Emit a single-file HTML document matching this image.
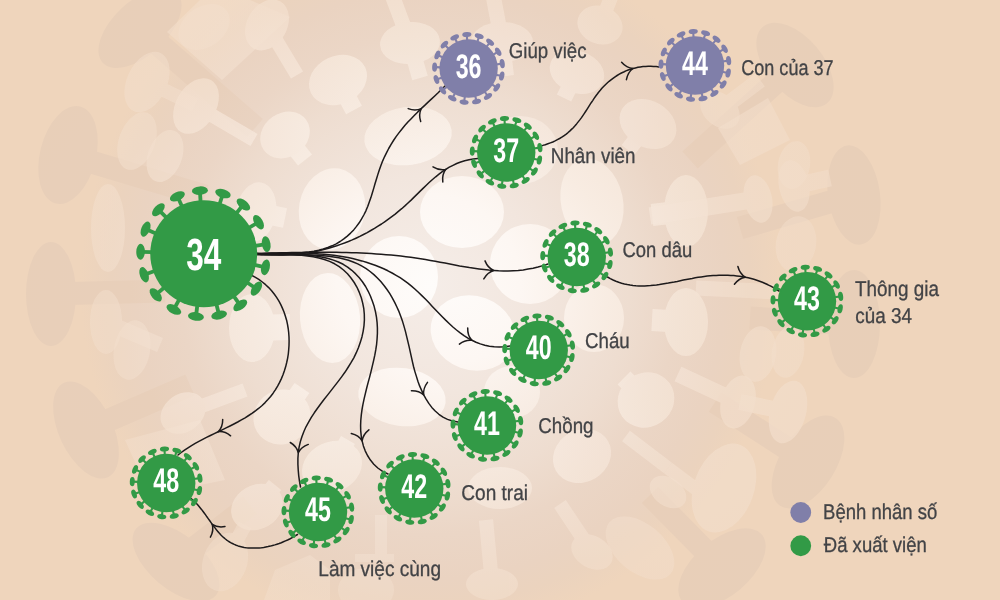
<!DOCTYPE html>
<html lang="vi">
<head>
<meta charset="utf-8">
<title>Sơ đồ lây nhiễm bệnh nhân số 34</title>
<style>
html,body{margin:0;padding:0;background:#efd5bc;}
body{width:1000px;height:600px;overflow:hidden;font-family:"Liberation Sans",sans-serif;}
svg{display:block;will-change:transform;}
text{-webkit-font-smoothing:antialiased;text-rendering:geometricPrecision;}
</style>
</head>
<body>
<svg width="1000" height="600" viewBox="0 0 1000 600">
<defs><radialGradient id="gb" gradientUnits="userSpaceOnUse" cx="430" cy="285" r="460"><stop offset="0.000" stop-color="#f5ede8"/><stop offset="0.239" stop-color="#f2e6de"/><stop offset="0.435" stop-color="#eeddd0"/><stop offset="0.543" stop-color="#ebd6c6"/><stop offset="0.641" stop-color="#ead3c1"/><stop offset="0.696" stop-color="#ebd3be"/><stop offset="0.761" stop-color="#efd5bc"/><stop offset="1.000" stop-color="#efd5bc"/></radialGradient><radialGradient id="gd" gradientUnits="userSpaceOnUse" cx="430" cy="285" r="460"><stop offset="0.000" stop-color="#eeddd0"/><stop offset="0.435" stop-color="#eeddd0"/><stop offset="0.511" stop-color="#e9d3c2"/><stop offset="0.652" stop-color="#e8cfba"/><stop offset="1.000" stop-color="#e8cfb8"/></radialGradient><radialGradient id="gl" gradientUnits="userSpaceOnUse" cx="430" cy="285" r="460"><stop offset="0.000" stop-color="#fefcfa"/><stop offset="0.196" stop-color="#fdf7f3"/><stop offset="0.391" stop-color="#f8ece2"/><stop offset="0.543" stop-color="#f5e5d8"/><stop offset="0.696" stop-color="#f3dfcd"/><stop offset="1.000" stop-color="#f2dcc8"/></radialGradient></defs>
<rect width="1000" height="600" fill="#efd5bc"/>
<circle cx="430" cy="285" r="355" fill="url(#gb)"/>
<g fill="url(#gd)">
<polygon points="132.1,37.1 247.1,137.1 262.9,118.9 147.9,18.9"/><ellipse cx="140" cy="28" rx="51" ry="27" transform="rotate(-43 140 28)"/>
<polygon points="64.7,166.0 201.7,207.0 208.3,185.0 71.3,144.0"/><ellipse cx="68" cy="155" rx="28" ry="50" transform="rotate(14 68 155)"/>
<polygon points="51.3,305.5 165.3,302.5 164.7,279.5 50.7,282.5"/><ellipse cx="51" cy="294" rx="25" ry="52" transform="rotate(0 51 294)"/>
<polygon points="90.6,440.6 194.6,395.6 185.4,374.4 81.4,419.4"/><ellipse cx="86" cy="430" rx="27" ry="52" transform="rotate(-25 86 430)"/>
<polygon points="183.0,571.1 257.0,514.1 243.0,495.9 169.0,552.9"/><ellipse cx="176" cy="562" rx="27" ry="52" transform="rotate(-50 176 562)"/>
<polygon points="787.3,56.5 682.3,151.5 697.7,168.5 802.7,73.5"/><ellipse cx="795" cy="65" rx="28" ry="50" transform="rotate(-40 795 65)"/>
<polygon points="850.8,184.0 736.8,217.0 743.2,239.0 857.2,206.0"/><ellipse cx="854" cy="195" rx="26" ry="50" transform="rotate(-8 854 195)"/>
<polygon points="854.7,312.5 750.7,306.5 749.3,329.5 853.3,335.5"/><ellipse cx="854" cy="324" rx="26" ry="54" transform="rotate(0 854 324)"/>
<polygon points="814.2,452.3 721.2,392.3 708.8,411.7 801.8,471.7"/><ellipse cx="808" cy="462" rx="28" ry="52" transform="rotate(32 808 462)"/>
<polygon points="730.2,559.9 658.2,486.9 641.8,503.1 713.8,576.1"/><ellipse cx="722" cy="568" rx="28" ry="52" transform="rotate(50 722 568)"/>
</g>
<g fill="url(#gl)" opacity="1.00"><ellipse cx="332" cy="209" rx="33" ry="41" transform="rotate(10 332 209)"/></g>
<g fill="url(#gl)" opacity="1.00"><ellipse cx="462" cy="212" rx="42" ry="36" transform="rotate(0 462 212)"/></g>
<g fill="url(#gl)" opacity="1.00"><ellipse cx="399" cy="277" rx="39" ry="41" transform="rotate(0 399 277)"/></g>
<g fill="url(#gl)" opacity="1.00"><ellipse cx="330" cy="318" rx="30" ry="45" transform="rotate(-5 330 318)"/></g>
<g fill="url(#gl)" opacity="1.00"><ellipse cx="530" cy="264" rx="40" ry="40" transform="rotate(0 530 264)"/></g>
<g fill="url(#gl)" opacity="1.00"><ellipse cx="473" cy="333" rx="43" ry="37" transform="rotate(20 473 333)"/></g>
<g fill="url(#gl)" opacity="1.00"><ellipse cx="592" cy="202" rx="31" ry="44" transform="rotate(-12 592 202)"/></g>
<g fill="url(#gl)" opacity="0.99"><ellipse cx="594" cy="318" rx="30" ry="34" transform="rotate(0 594 318)"/></g>
<g fill="url(#gl)" opacity="1.00"><ellipse cx="402" cy="397" rx="44" ry="29" transform="rotate(8 402 397)"/></g>
<g fill="url(#gl)" opacity="0.99"><ellipse cx="408" cy="136" rx="44" ry="29" transform="rotate(-8 408 136)"/></g>
<g fill="url(#gl)" opacity="0.83"><ellipse cx="512" cy="392" rx="28" ry="26" transform="rotate(0 512 392)"/></g>
<g fill="url(#gl)" opacity="0.73"><ellipse cx="520" cy="150" rx="38" ry="34" transform="rotate(0 520 150)"/></g>
<g fill="url(#gl)" opacity="0.94"><polygon points="330.1,84.2 346.1,114.2 361.9,105.8 345.9,75.8"/><ellipse cx="338" cy="80" rx="30" ry="24" transform="rotate(-25 338 80)"/></g>
<g fill="url(#gl)" opacity="0.94"><polygon points="278.0,140.6 298.0,165.6 312.0,154.4 292.0,129.4"/><ellipse cx="285" cy="135" rx="26" ry="22" transform="rotate(-35 285 135)"/></g>
<g fill="url(#gl)" opacity="0.88"><polygon points="402.3,45.2 412.3,80.2 427.7,75.8 417.7,40.8"/><ellipse cx="410" cy="43" rx="30" ry="21" transform="rotate(-5 410 43)"/><polygon points="417.0,40.4 399.0,-7.6 385.0,-2.4 403.0,45.6"/><ellipse cx="410" cy="43" rx="0.1" ry="0.1" transform="rotate(0 410 43)"/></g>
<g fill="url(#gl)" opacity="0.78"><polygon points="494.1,42.9 498.1,76.9 513.9,75.1 509.9,41.1"/><ellipse cx="502" cy="42" rx="31" ry="20" transform="rotate(0 502 42)"/><polygon points="509.4,40.6 500.4,-6.4 485.6,-3.6 494.6,43.4"/><ellipse cx="502" cy="42" rx="0.1" ry="0.1" transform="rotate(0 502 42)"/></g>
<g fill="url(#gl)" opacity="0.83"><polygon points="569.8,68.4 556.8,94.4 571.2,101.6 584.2,75.6"/><ellipse cx="577" cy="72" rx="28" ry="21" transform="rotate(20 577 72)"/></g>
<g fill="url(#gl)" opacity="0.78"><polygon points="641.7,119.1 621.7,145.1 634.3,154.9 654.3,128.9"/><ellipse cx="648" cy="124" rx="30" ry="23" transform="rotate(30 648 124)"/></g>
<g fill="url(#gl)" opacity="0.73"><polygon points="606.5,27.6 618.5,-2.4 605.5,-7.6 593.5,22.4"/><ellipse cx="600" cy="25" rx="23" ry="19" transform="rotate(20 600 25)"/></g>
<g fill="url(#gl)" opacity="0.88"><polygon points="684.7,200.1 650.7,204.1 653.3,225.9 687.3,221.9"/><ellipse cx="686" cy="211" rx="22" ry="36" transform="rotate(0 686 211)"/></g>
<g fill="url(#gl)" opacity="0.88"><polygon points="686.6,311.0 652.6,309.0 651.4,331.0 685.4,333.0"/><ellipse cx="686" cy="322" rx="22" ry="34" transform="rotate(0 686 322)"/></g>
<g fill="url(#gl)" opacity="0.88"><polygon points="652.4,393.6 630.4,371.6 617.6,384.4 639.6,406.4"/><ellipse cx="646" cy="400" rx="29" ry="27" transform="rotate(-35 646 400)"/></g>
<g fill="url(#gl)" opacity="0.83"><polygon points="588.2,451.0 572.2,431.0 559.8,441.0 575.8,461.0"/><ellipse cx="582" cy="456" rx="30" ry="26" transform="rotate(-30 582 456)"/></g>
<g fill="url(#gl)" opacity="0.78"><ellipse cx="500" cy="488" rx="32" ry="21" transform="rotate(0 500 488)"/></g>
<g fill="url(#gl)" opacity="0.88"><polygon points="252.3,341.0 290.3,340.0 289.7,314.0 251.7,315.0"/><ellipse cx="252" cy="328" rx="23" ry="34" transform="rotate(0 252 328)"/></g>
<g fill="url(#gl)" opacity="0.78"><polygon points="254.0,221.8 283.0,227.8 287.0,208.2 258.0,202.2"/><ellipse cx="256" cy="212" rx="20" ry="30" transform="rotate(10 256 212)"/></g>
<g fill="url(#gl)" opacity="0.94"><polygon points="289.4,422.1 309.4,393.1 294.6,382.9 274.6,411.9"/><ellipse cx="282" cy="417" rx="29" ry="27" transform="rotate(-30 282 417)"/></g>
<g fill="url(#gl)" opacity="0.88"><polygon points="338.9,471.1 354.9,444.1 341.1,435.9 325.1,462.9"/><ellipse cx="332" cy="467" rx="31" ry="25" transform="rotate(-25 332 467)"/></g>
<g fill="url(#gl)" opacity="0.78"><polygon points="263.2,512.1 281.2,490.1 268.8,479.9 250.8,501.9"/><ellipse cx="257" cy="507" rx="27" ry="22" transform="rotate(-30 257 507)"/></g>
<g fill="url(#gl)" opacity="0.73"><polygon points="185.4,419.6 247.4,396.6 242.6,383.4 180.6,406.4"/><ellipse cx="183" cy="413" rx="24" ry="19" transform="rotate(-35 183 413)"/></g>
<g fill="url(#gl)" opacity="0.52"><polygon points="231.2,565.3 251.2,528.3 238.8,521.7 218.8,558.7"/><ellipse cx="225" cy="562" rx="22" ry="30" transform="rotate(20 225 562)"/></g>
<g fill="url(#gl)" opacity="0.57"><ellipse cx="794" cy="165" rx="16" ry="24" transform="rotate(10 794 165)"/></g>
<g fill="url(#gl)" opacity="0.57"><polygon points="144.0,88.3 192.0,111.3 198.0,98.7 150.0,75.7"/><ellipse cx="147" cy="82" rx="20" ry="32" transform="rotate(25 147 82)"/></g>
<g fill="url(#gl)" opacity="0.83"><polygon points="192.5,112.0 250.5,146.0 257.5,134.0 199.5,100.0"/><ellipse cx="196" cy="106" rx="20" ry="30" transform="rotate(30 196 106)"/></g>
<g fill="url(#gl)" opacity="0.57"><ellipse cx="137" cy="141" rx="18" ry="30" transform="rotate(20 137 141)"/></g>
<g fill="url(#gl)" opacity="0.62"><ellipse cx="165" cy="156" rx="17" ry="27" transform="rotate(20 165 156)"/></g>
<g fill="url(#gl)" opacity="0.57"><ellipse cx="204" cy="27" rx="28" ry="20" transform="rotate(-35 204 27)"/></g>
<g fill="url(#gl)" opacity="0.83"><polygon points="261.0,28.6 291.0,78.6 303.0,71.4 273.0,21.4"/><ellipse cx="267" cy="25" rx="20" ry="27" transform="rotate(30 267 25)"/></g>
<g fill="url(#gl)" opacity="0.57"><ellipse cx="108" cy="228" rx="17" ry="44" transform="rotate(0 108 228)"/></g>
<g fill="url(#gl)" opacity="0.52"><polygon points="103.1,328.9 157.1,351.9 162.9,338.1 108.9,315.1"/><ellipse cx="106" cy="322" rx="16" ry="32" transform="rotate(0 106 322)"/></g>
<g fill="url(#gl)" opacity="0.52"><ellipse cx="132" cy="350" rx="18" ry="30" transform="rotate(10 132 350)"/></g>
<g fill="url(#gl)" opacity="0.68"><polygon points="756.7,190.6 648.7,207.6 651.3,224.4 759.3,207.4"/><ellipse cx="758" cy="199" rx="14" ry="24" transform="rotate(-12 758 199)"/></g>
<g fill="url(#gl)" opacity="0.62"><polygon points="795.8,194.3 831.8,186.3 828.2,169.7 792.2,177.7"/><ellipse cx="794" cy="186" rx="15" ry="26" transform="rotate(-12 794 186)"/></g>
<g fill="url(#gl)" opacity="0.52"><ellipse cx="796" cy="244" rx="20" ry="28" transform="rotate(10 796 244)"/></g>
<g fill="url(#gl)" opacity="0.62"><ellipse cx="758" cy="354" rx="18" ry="28" transform="rotate(10 758 354)"/><polygon points="695.6,295.5 777.6,299.5 778.4,284.5 696.4,280.5"/><ellipse cx="696" cy="288" rx="0.1" ry="0.1" transform="rotate(0 696 288)"/></g>
<g fill="url(#gl)" opacity="0.57"><ellipse cx="788" cy="352" rx="16" ry="26" transform="rotate(10 788 352)"/></g>
<g fill="url(#gl)" opacity="0.73"><polygon points="741.4,394.8 681.4,366.8 674.6,381.2 734.6,409.2"/><ellipse cx="738" cy="402" rx="17" ry="27" transform="rotate(15 738 402)"/></g>
<g fill="url(#gl)" opacity="0.73"><polygon points="789.6,404.2 741.6,394.2 738.4,409.8 786.4,419.8"/><ellipse cx="788" cy="412" rx="18" ry="32" transform="rotate(15 788 412)"/></g>
<g fill="url(#gl)" opacity="0.68"><ellipse cx="724" cy="488" rx="30" ry="46" transform="rotate(20 724 488)"/><polygon points="671.9,462.8 629.9,430.8 622.1,441.2 664.1,473.2"/><ellipse cx="668" cy="468" rx="0.1" ry="0.1" transform="rotate(0 668 468)"/><polygon points="664.1,473.2 704.1,503.2 711.9,492.8 671.9,462.8"/><ellipse cx="668" cy="468" rx="0.1" ry="0.1" transform="rotate(0 668 468)"/></g>
<g fill="url(#gl)" opacity="0.62"><ellipse cx="668" cy="492" rx="20" ry="14" transform="rotate(35 668 492)"/></g>
<g fill="url(#gl)" opacity="0.52"><ellipse cx="640" cy="548" rx="40" ry="24" transform="rotate(40 640 548)"/></g>
<g fill="url(#gl)" opacity="0.57"><polygon points="724.8,116.4 764.8,86.4 755.2,73.6 715.2,103.6"/><ellipse cx="720" cy="110" rx="22" ry="16" transform="rotate(40 720 110)"/></g>
<g fill="url(#gl)" opacity="0.62"><polygon points="597.8,548.1 565.8,500.1 554.2,507.9 586.2,555.9"/><ellipse cx="592" cy="552" rx="22" ry="16" transform="rotate(30 592 552)"/></g>
<g fill="url(#gl)" opacity="0.62"><polygon points="499.0,583.3 493.0,519.3 479.0,520.7 485.0,584.7"/><ellipse cx="492" cy="584" rx="26" ry="16" transform="rotate(0 492 584)"/></g>
<g fill="url(#gl)" opacity="0.47"><ellipse cx="366" cy="590" rx="28" ry="22" transform="rotate(0 366 590)"/><polygon points="387.0,556.0 387.0,515.0 375.0,515.0 375.0,556.0"/><ellipse cx="381" cy="556" rx="0.1" ry="0.1" transform="rotate(0 381 556)"/><polygon points="355.0,562.0 394.0,562.0 394.0,554.0 355.0,554.0"/><ellipse cx="355" cy="558" rx="0.1" ry="0.1" transform="rotate(0 355 558)"/></g>
<polygon fill="url(#gl)" opacity="0.57" points="167,32 222,80 290,17 250,0 200,0"/>
<polygon fill="url(#gl)" opacity="0.52" points="125,440 200,420 225,480 150,495"/>
<polygon fill="url(#gl)" opacity="0.47" points="264,600 275,570 310,555 330,570 330,600"/>
<polygon fill="url(#gl)" opacity="0.57" points="718,128 768,98 790,140 740,165"/>
<g fill="none" stroke="#1d1a1b" stroke-width="1.5" stroke-linecap="round" stroke-linejoin="round">
<path d="M257.0 253.5 L261.1 253.5 L265.4 253.5 L269.9 253.5 L274.6 253.6 L279.4 253.6 L284.2 253.6 L289.2 253.5 L294.2 253.3 L299.2 253.0 L304.1 252.5 L309.1 251.9 L313.9 251.2 L318.7 250.2 L323.3 249.0 L327.8 247.5 L332.1 245.8 L336.2 243.8 L340.1 241.5 L343.8 238.9 L347.3 236.1 L350.6 233.1 L353.7 229.9 L356.5 226.4 L359.2 222.8 L361.6 218.9 L363.8 215.0 L365.9 210.8 L367.7 206.5 L369.3 202.1 L370.9 197.6 L372.3 193.0 L373.7 188.4 L375.0 183.8 L376.4 179.2 L377.8 174.6 L379.3 170.0 L380.9 165.5 L382.6 161.1 L384.5 156.8 L386.6 152.6 L388.7 148.5 L391.1 144.4 L393.5 140.5 L396.1 136.6 L398.9 132.9 L401.8 129.2 L404.8 125.6 L407.9 122.1 L411.2 118.7 L414.5 115.3 L417.8 111.9 L421.2 108.6 L424.7 105.4 L428.1 102.1 L431.6 98.9 L435.0 95.7 L438.4 92.5 L441.7 89.2 L445.0 86.0"/>
<path d="M420.7 121.6 Q418.4 114.5 421.2 108.6 M408.2 108.6 Q415.3 111.3 421.2 108.6"/>
<path d="M257.0 253.5 L261.4 254.0 L265.7 254.4 L270.0 254.6 L274.4 254.8 L278.7 254.9 L282.9 254.9 L287.2 254.7 L291.5 254.5 L295.7 254.2 L299.9 253.8 L304.1 253.3 L308.2 252.7 L312.4 252.0 L316.5 251.2 L320.6 250.3 L324.7 249.3 L328.7 248.2 L332.7 247.0 L336.7 245.8 L340.6 244.4 L344.5 243.0 L348.4 241.5 L352.2 239.9 L356.0 238.2 L359.8 236.4 L363.5 234.5 L367.2 232.6 L370.8 230.5 L374.5 228.4 L378.0 226.2 L381.5 224.0 L385.0 221.6 L388.4 219.2 L391.8 216.7 L395.2 214.1 L398.4 211.4 L401.7 208.7 L404.9 205.9 L408.0 203.0 L411.1 200.1 L414.1 197.1 L417.2 194.1 L420.2 191.1 L423.3 188.1 L426.3 185.2 L429.4 182.3 L432.5 179.5 L435.7 176.8 L439.0 174.2 L442.3 171.7 L445.8 169.4 L449.3 167.2 L453.0 165.3 L456.7 163.5 L460.7 162.0 L464.7 160.7 L469.0 159.7 L473.4 158.9 L478.0 158.5"/>
<path d="M442.8 182.0 Q441.8 174.5 445.8 169.4 M433.0 166.8 Q439.4 170.8 445.8 169.4"/>
<path d="M257.0 253.5 L262.0 253.4 L266.9 253.2 L271.9 253.1 L276.9 252.9 L281.8 252.8 L286.8 252.7 L291.8 252.6 L296.8 252.5 L301.7 252.4 L306.7 252.3 L311.7 252.3 L316.7 252.2 L321.6 252.2 L326.6 252.2 L331.6 252.3 L336.6 252.3 L341.5 252.4 L346.5 252.5 L351.5 252.7 L356.4 252.8 L361.4 253.0 L366.4 253.3 L371.3 253.6 L376.3 253.9 L381.2 254.3 L386.1 254.7 L391.1 255.1 L396.0 255.6 L400.9 256.1 L405.9 256.7 L410.8 257.3 L415.7 258.0 L420.6 258.8 L425.5 259.5 L430.4 260.4 L435.3 261.3 L440.1 262.2 L445.0 263.1 L449.9 264.0 L454.8 265.0 L459.6 265.9 L464.5 266.7 L469.4 267.6 L474.2 268.3 L479.1 269.0 L484.0 269.6 L488.8 270.1 L493.7 270.5 L498.6 270.8 L503.5 270.9 L508.4 270.9 L513.3 270.7 L518.2 270.4 L523.2 269.9 L528.1 269.1 L533.1 268.2 L538.0 267.0 L543.0 265.6 L548.0 264.0"/>
<path d="M483.8 278.9 Q487.5 272.3 493.7 270.5 M485.0 260.9 Q487.8 267.9 493.7 270.5"/>
<path d="M257.0 254.0 L261.7 253.8 L266.4 253.5 L271.2 253.3 L275.9 253.2 L280.7 253.0 L285.6 253.0 L290.4 252.9 L295.2 252.9 L300.1 253.0 L304.9 253.1 L309.8 253.3 L314.6 253.5 L319.4 253.9 L324.2 254.3 L329.0 254.8 L333.8 255.3 L338.5 256.0 L343.3 256.8 L347.9 257.6 L352.6 258.6 L357.2 259.7 L361.8 260.9 L366.3 262.2 L370.7 263.7 L375.1 265.2 L379.5 267.0 L383.7 268.8 L387.9 270.8 L392.1 273.0 L396.1 275.3 L400.1 277.7 L404.0 280.3 L407.8 283.1 L411.5 286.1 L415.1 289.2 L418.6 292.5 L422.1 295.9 L425.6 299.3 L429.0 302.8 L432.3 306.4 L435.7 310.0 L439.1 313.5 L442.5 317.0 L445.9 320.4 L449.4 323.7 L452.9 327.0 L456.5 330.0 L460.2 332.9 L464.0 335.6 L467.9 338.1 L471.9 340.3 L476.0 342.2 L480.3 343.9 L484.8 345.2 L489.4 346.2 L494.2 346.8 L499.3 346.9 L504.5 346.7 L510.0 346.0"/>
<path d="M459.4 344.1 Q465.4 339.5 471.9 340.3 M467.7 328.0 Q467.4 335.6 471.9 340.3"/>
<path d="M257.0 254.0 L261.5 254.4 L266.2 254.6 L271.1 254.7 L276.0 254.8 L281.1 254.8 L286.3 254.8 L291.5 254.8 L296.8 254.7 L302.1 254.8 L307.4 254.8 L312.7 255.0 L318.1 255.3 L323.3 255.7 L328.6 256.2 L333.7 256.9 L338.8 257.8 L343.7 259.0 L348.5 260.3 L353.2 262.0 L357.7 263.9 L362.0 266.1 L366.2 268.7 L370.1 271.5 L373.9 274.6 L377.4 278.0 L380.8 281.6 L384.0 285.5 L387.0 289.5 L389.8 293.7 L392.4 298.1 L394.8 302.6 L397.0 307.2 L399.1 311.9 L400.9 316.8 L402.6 321.6 L404.1 326.6 L405.5 331.6 L406.7 336.6 L407.9 341.6 L409.1 346.7 L410.2 351.7 L411.3 356.7 L412.4 361.7 L413.6 366.7 L414.9 371.6 L416.4 376.4 L417.9 381.2 L419.6 385.9 L421.6 390.4 L423.7 394.9 L426.1 399.2 L428.8 403.4 L431.8 407.4 L435.2 411.0 L438.9 414.3 L443.0 417.1 L447.5 419.4 L452.5 421.0 L458.0 422.0"/>
<path d="M411.4 390.7 Q419.0 390.5 423.7 394.9 M427.5 382.4 Q422.9 388.5 423.7 394.9"/>
<path d="M257.0 254.5 L261.8 254.7 L266.8 254.7 L272.1 254.7 L277.5 254.6 L283.0 254.6 L288.7 254.6 L294.4 254.6 L300.1 254.8 L305.9 255.1 L311.6 255.6 L317.2 256.3 L322.8 257.3 L328.2 258.5 L333.4 260.1 L338.4 262.0 L343.2 264.3 L347.6 267.1 L351.8 270.3 L355.7 273.9 L359.3 277.8 L362.6 282.0 L365.6 286.5 L368.2 291.3 L370.5 296.2 L372.5 301.4 L374.2 306.6 L375.5 311.9 L376.5 317.3 L377.1 322.6 L377.4 328.0 L377.4 333.4 L377.1 338.8 L376.6 344.3 L375.8 349.7 L374.8 355.2 L373.6 360.7 L372.3 366.1 L371.0 371.6 L369.6 377.1 L368.1 382.6 L366.7 388.0 L365.4 393.4 L364.1 398.9 L363.0 404.2 L362.0 409.6 L361.3 414.9 L360.8 420.2 L360.6 425.5 L360.7 430.6 L361.2 435.8 L362.1 440.9 L363.4 445.9 L365.2 450.8 L367.5 455.5 L370.4 460.1 L373.8 464.2 L377.8 468.0 L382.6 471.3 L388.0 474.0"/>
<path d="M351.3 433.6 Q358.7 435.3 362.1 440.9 M368.9 429.8 Q363.0 434.4 362.1 440.9"/>
<path d="M257.0 254.5 L261.9 254.6 L267.1 254.6 L272.5 254.6 L278.1 254.5 L283.9 254.5 L289.7 254.6 L295.7 254.9 L301.6 255.3 L307.4 255.9 L313.2 256.8 L318.9 258.0 L324.3 259.5 L329.6 261.4 L334.6 263.8 L339.2 266.7 L343.5 270.0 L347.5 273.8 L351.0 278.0 L354.2 282.5 L357.0 287.3 L359.3 292.4 L361.3 297.7 L362.7 303.1 L363.8 308.7 L364.3 314.3 L364.4 319.9 L364.0 325.6 L363.2 331.1 L362.0 336.7 L360.4 342.1 L358.5 347.5 L356.3 352.7 L353.8 357.8 L351.0 362.7 L348.0 367.5 L344.9 372.3 L341.6 376.9 L338.2 381.4 L334.7 385.9 L331.2 390.4 L327.7 394.9 L324.2 399.3 L320.8 403.8 L317.5 408.2 L314.3 412.8 L311.3 417.4 L308.6 422.1 L306.0 426.8 L303.8 431.7 L301.9 436.7 L300.3 441.9 L299.1 447.2 L298.3 452.7 L297.9 458.4 L297.9 464.1 L298.2 469.8 L298.7 475.6 L299.5 481.3 L300.5 487.0"/>
<path d="M290.3 442.5 Q296.8 446.4 298.3 452.7 M308.3 444.4 Q301.2 446.9 298.3 452.7"/>
<path d="M251.0 275.0 L255.0 277.1 L258.8 279.4 L262.3 282.0 L265.6 284.7 L268.7 287.6 L271.6 290.7 L274.2 294.0 L276.6 297.4 L278.8 300.9 L280.8 304.6 L282.5 308.4 L284.1 312.2 L285.4 316.2 L286.6 320.2 L287.5 324.4 L288.2 328.5 L288.7 332.7 L289.0 337.0 L289.1 341.3 L289.0 345.5 L288.7 349.8 L288.3 354.0 L287.6 358.3 L286.7 362.5 L285.7 366.6 L284.4 370.7 L283.0 374.7 L281.4 378.6 L279.6 382.4 L277.6 386.1 L275.5 389.7 L273.1 393.2 L270.6 396.5 L267.9 399.6 L265.1 402.6 L262.1 405.5 L258.9 408.2 L255.7 410.7 L252.3 413.2 L248.7 415.5 L245.1 417.8 L241.4 419.9 L237.7 422.0 L233.9 424.0 L230.0 426.0 L226.1 427.9 L222.2 429.8 L218.2 431.7 L214.3 433.6 L210.4 435.5 L206.5 437.4 L202.7 439.4 L198.9 441.4 L195.2 443.4 L191.5 445.6 L188.0 447.8 L184.5 450.1 L181.2 452.5 L178.0 455.0"/>
<path d="M222.7 419.5 Q222.8 427.1 218.2 431.7 M230.6 435.8 Q224.7 431.0 218.2 431.7"/>
<path d="M297.5 534.5 L295.6 535.7 L293.7 536.8 L291.7 537.9 L289.7 539.0 L287.6 540.0 L285.5 540.9 L283.4 541.8 L281.3 542.7 L279.1 543.5 L277.0 544.2 L274.8 544.9 L272.6 545.5 L270.4 546.1 L268.1 546.6 L265.9 547.0 L263.7 547.4 L261.5 547.7 L259.3 547.9 L257.1 548.1 L254.9 548.1 L252.7 548.1 L250.5 548.1 L248.4 547.9 L246.3 547.7 L244.2 547.4 L242.1 546.9 L240.1 546.4 L238.1 545.9 L236.2 545.2 L234.3 544.4 L232.4 543.5 L230.6 542.6 L228.8 541.5 L227.1 540.3 L225.4 539.0 L223.8 537.7 L222.2 536.2 L220.7 534.7 L219.2 533.1 L217.8 531.4 L216.4 529.7 L215.0 527.9 L213.6 526.1 L212.2 524.3 L210.9 522.4 L209.6 520.5 L208.2 518.6 L206.9 516.8 L205.6 514.9 L204.2 513.0 L202.9 511.2 L201.5 509.4 L200.1 507.7 L198.7 506.0 L197.2 504.3 L195.7 502.7 L194.2 501.2 L192.6 499.8 L191.0 498.5"/>
<path d="M225.0 526.5 Q217.6 527.9 212.2 524.3 M210.4 537.1 Q214.1 530.5 212.2 524.3"/>
<path d="M540.0 146.0 L542.7 145.4 L545.3 144.7 L547.9 143.8 L550.4 142.9 L552.8 142.0 L555.1 140.9 L557.4 139.7 L559.6 138.5 L561.8 137.2 L563.8 135.8 L565.9 134.3 L567.8 132.8 L569.7 131.1 L571.5 129.4 L573.3 127.7 L575.0 125.8 L576.6 123.9 L578.2 121.9 L579.8 119.9 L581.3 117.9 L582.7 115.8 L584.2 113.6 L585.6 111.5 L587.0 109.3 L588.4 107.1 L589.8 104.9 L591.2 102.7 L592.7 100.6 L594.1 98.4 L595.6 96.3 L597.1 94.3 L598.6 92.2 L600.3 90.3 L601.9 88.3 L603.6 86.5 L605.4 84.7 L607.2 83.0 L609.1 81.3 L611.0 79.8 L613.0 78.3 L615.1 76.8 L617.1 75.5 L619.3 74.2 L621.4 73.0 L623.7 72.0 L625.9 70.9 L628.2 70.0 L630.6 69.2 L633.0 68.5 L635.4 67.9 L637.9 67.3 L640.4 66.9 L643.0 66.6 L645.6 66.4 L648.2 66.3 L650.8 66.3 L653.5 66.4 L656.2 66.6 L659.0 67.0"/>
<path d="M626.4 79.7 Q627.7 72.3 633.0 68.5 M621.6 62.3 Q626.5 68.0 633.0 68.5"/>
<path d="M607.5 277.0 L610.3 278.6 L613.1 280.0 L615.9 281.2 L618.7 282.3 L621.6 283.2 L624.4 284.0 L627.3 284.6 L630.1 285.1 L633.0 285.5 L635.9 285.8 L638.8 285.9 L641.8 286.0 L644.7 286.0 L647.6 285.8 L650.6 285.6 L653.5 285.3 L656.5 285.0 L659.4 284.6 L662.4 284.1 L665.4 283.6 L668.3 283.1 L671.3 282.5 L674.3 282.0 L677.3 281.4 L680.3 280.7 L683.3 280.1 L686.3 279.5 L689.3 278.9 L692.2 278.4 L695.2 277.8 L698.2 277.3 L701.2 276.9 L704.2 276.5 L707.2 276.1 L710.1 275.8 L713.1 275.5 L716.1 275.4 L719.0 275.2 L722.0 275.2 L724.9 275.2 L727.9 275.2 L730.8 275.4 L733.7 275.6 L736.7 275.9 L739.6 276.2 L742.5 276.7 L745.3 277.2 L748.2 277.8 L751.1 278.5 L753.9 279.3 L756.8 280.2 L759.6 281.2 L762.4 282.3 L765.2 283.5 L768.0 284.8 L770.8 286.2 L773.5 287.7 L776.3 289.3 L779.0 291.0"/>
<path d="M734.4 284.2 Q738.9 278.2 745.3 277.2 M737.9 266.5 Q739.8 273.9 745.3 277.2"/>
</g>
<g fill="#329a46" stroke="none">
<circle cx="203.75" cy="253.75" r="53.5"/>
<g transform="translate(203.75 253.75) rotate(-3.50)"><rect x="-1.9" y="-63.20" width="3.8" height="11.20"/><ellipse cx="0" cy="-63.20" rx="8" ry="4.3"/></g>
<g transform="translate(203.75 253.75) rotate(17.68)"><rect x="-1.9" y="-63.20" width="3.8" height="11.20"/><ellipse cx="0" cy="-63.20" rx="8" ry="4.3"/></g>
<g transform="translate(203.75 253.75) rotate(38.85)"><rect x="-1.9" y="-63.20" width="3.8" height="11.20"/><ellipse cx="0" cy="-63.20" rx="8" ry="4.3"/></g>
<g transform="translate(203.75 253.75) rotate(60.03)"><rect x="-1.9" y="-63.20" width="3.8" height="11.20"/><ellipse cx="0" cy="-63.20" rx="8" ry="4.3"/></g>
<g transform="translate(203.75 253.75) rotate(81.21)"><rect x="-1.9" y="-63.20" width="3.8" height="11.20"/><ellipse cx="0" cy="-63.20" rx="8" ry="4.3"/></g>
<g transform="translate(203.75 253.75) rotate(102.38)"><rect x="-1.9" y="-63.20" width="3.8" height="11.20"/><ellipse cx="0" cy="-63.20" rx="8" ry="4.3"/></g>
<g transform="translate(203.75 253.75) rotate(123.56)"><rect x="-1.9" y="-63.20" width="3.8" height="11.20"/><ellipse cx="0" cy="-63.20" rx="8" ry="4.3"/></g>
<g transform="translate(203.75 253.75) rotate(144.74)"><rect x="-1.9" y="-63.20" width="3.8" height="11.20"/><ellipse cx="0" cy="-63.20" rx="8" ry="4.3"/></g>
<g transform="translate(203.75 253.75) rotate(165.91)"><rect x="-1.9" y="-63.20" width="3.8" height="11.20"/><ellipse cx="0" cy="-63.20" rx="8" ry="4.3"/></g>
<g transform="translate(203.75 253.75) rotate(187.09)"><rect x="-1.9" y="-63.20" width="3.8" height="11.20"/><ellipse cx="0" cy="-63.20" rx="8" ry="4.3"/></g>
<g transform="translate(203.75 253.75) rotate(208.26)"><rect x="-1.9" y="-63.20" width="3.8" height="11.20"/><ellipse cx="0" cy="-63.20" rx="8" ry="4.3"/></g>
<g transform="translate(203.75 253.75) rotate(229.44)"><rect x="-1.9" y="-63.20" width="3.8" height="11.20"/><ellipse cx="0" cy="-63.20" rx="8" ry="4.3"/></g>
<g transform="translate(203.75 253.75) rotate(250.62)"><rect x="-1.9" y="-63.20" width="3.8" height="11.20"/><ellipse cx="0" cy="-63.20" rx="8" ry="4.3"/></g>
<g transform="translate(203.75 253.75) rotate(271.79)"><rect x="-1.9" y="-63.20" width="3.8" height="11.20"/><ellipse cx="0" cy="-63.20" rx="8" ry="4.3"/></g>
<g transform="translate(203.75 253.75) rotate(292.97)"><rect x="-1.9" y="-63.20" width="3.8" height="11.20"/><ellipse cx="0" cy="-63.20" rx="8" ry="4.3"/></g>
<g transform="translate(203.75 253.75) rotate(314.15)"><rect x="-1.9" y="-63.20" width="3.8" height="11.20"/><ellipse cx="0" cy="-63.20" rx="8" ry="4.3"/></g>
<g transform="translate(203.75 253.75) rotate(335.32)"><rect x="-1.9" y="-63.20" width="3.8" height="11.20"/><ellipse cx="0" cy="-63.20" rx="8" ry="4.3"/></g>
</g>
<text transform="translate(203.75 269.75) scale(0.7 1)" text-anchor="middle" font-family="'Liberation Sans', sans-serif" font-weight="700" font-size="45" fill="#fff">34</text>
<g fill="#807fa9" stroke="none">
<circle cx="468.6" cy="68.5" r="29.2"/>
<g transform="translate(468.6 68.5) rotate(-3.00)"><rect x="-1.05" y="-34.00" width="2.1" height="6.30"/><ellipse cx="0" cy="-34.00" rx="4.6" ry="2.5"/></g>
<g transform="translate(468.6 68.5) rotate(18.18)"><rect x="-1.05" y="-34.00" width="2.1" height="6.30"/><ellipse cx="0" cy="-34.00" rx="4.6" ry="2.5"/></g>
<g transform="translate(468.6 68.5) rotate(39.35)"><rect x="-1.05" y="-34.00" width="2.1" height="6.30"/><ellipse cx="0" cy="-34.00" rx="4.6" ry="2.5"/></g>
<g transform="translate(468.6 68.5) rotate(60.53)"><rect x="-1.05" y="-34.00" width="2.1" height="6.30"/><ellipse cx="0" cy="-34.00" rx="4.6" ry="2.5"/></g>
<g transform="translate(468.6 68.5) rotate(81.71)"><rect x="-1.05" y="-34.00" width="2.1" height="6.30"/><ellipse cx="0" cy="-34.00" rx="4.6" ry="2.5"/></g>
<g transform="translate(468.6 68.5) rotate(102.88)"><rect x="-1.05" y="-34.00" width="2.1" height="6.30"/><ellipse cx="0" cy="-34.00" rx="4.6" ry="2.5"/></g>
<g transform="translate(468.6 68.5) rotate(124.06)"><rect x="-1.05" y="-34.00" width="2.1" height="6.30"/><ellipse cx="0" cy="-34.00" rx="4.6" ry="2.5"/></g>
<g transform="translate(468.6 68.5) rotate(145.24)"><rect x="-1.05" y="-34.00" width="2.1" height="6.30"/><ellipse cx="0" cy="-34.00" rx="4.6" ry="2.5"/></g>
<g transform="translate(468.6 68.5) rotate(166.41)"><rect x="-1.05" y="-34.00" width="2.1" height="6.30"/><ellipse cx="0" cy="-34.00" rx="4.6" ry="2.5"/></g>
<g transform="translate(468.6 68.5) rotate(187.59)"><rect x="-1.05" y="-34.00" width="2.1" height="6.30"/><ellipse cx="0" cy="-34.00" rx="4.6" ry="2.5"/></g>
<g transform="translate(468.6 68.5) rotate(208.76)"><rect x="-1.05" y="-34.00" width="2.1" height="6.30"/><ellipse cx="0" cy="-34.00" rx="4.6" ry="2.5"/></g>
<g transform="translate(468.6 68.5) rotate(229.94)"><rect x="-1.05" y="-34.00" width="2.1" height="6.30"/><ellipse cx="0" cy="-34.00" rx="4.6" ry="2.5"/></g>
<g transform="translate(468.6 68.5) rotate(251.12)"><rect x="-1.05" y="-34.00" width="2.1" height="6.30"/><ellipse cx="0" cy="-34.00" rx="4.6" ry="2.5"/></g>
<g transform="translate(468.6 68.5) rotate(272.29)"><rect x="-1.05" y="-34.00" width="2.1" height="6.30"/><ellipse cx="0" cy="-34.00" rx="4.6" ry="2.5"/></g>
<g transform="translate(468.6 68.5) rotate(293.47)"><rect x="-1.05" y="-34.00" width="2.1" height="6.30"/><ellipse cx="0" cy="-34.00" rx="4.6" ry="2.5"/></g>
<g transform="translate(468.6 68.5) rotate(314.65)"><rect x="-1.05" y="-34.00" width="2.1" height="6.30"/><ellipse cx="0" cy="-34.00" rx="4.6" ry="2.5"/></g>
<g transform="translate(468.6 68.5) rotate(335.82)"><rect x="-1.05" y="-34.00" width="2.1" height="6.30"/><ellipse cx="0" cy="-34.00" rx="4.6" ry="2.5"/></g>
</g>
<text transform="translate(468.6 77.5) scale(0.68 1)" text-anchor="middle" font-family="'Liberation Sans', sans-serif" font-weight="700" font-size="34.2" fill="#fff">36</text>
<g fill="#807fa9" stroke="none">
<circle cx="695" cy="65.5" r="29.2"/>
<g transform="translate(695 65.5) rotate(-3.00)"><rect x="-1.05" y="-34.00" width="2.1" height="6.30"/><ellipse cx="0" cy="-34.00" rx="4.6" ry="2.5"/></g>
<g transform="translate(695 65.5) rotate(18.18)"><rect x="-1.05" y="-34.00" width="2.1" height="6.30"/><ellipse cx="0" cy="-34.00" rx="4.6" ry="2.5"/></g>
<g transform="translate(695 65.5) rotate(39.35)"><rect x="-1.05" y="-34.00" width="2.1" height="6.30"/><ellipse cx="0" cy="-34.00" rx="4.6" ry="2.5"/></g>
<g transform="translate(695 65.5) rotate(60.53)"><rect x="-1.05" y="-34.00" width="2.1" height="6.30"/><ellipse cx="0" cy="-34.00" rx="4.6" ry="2.5"/></g>
<g transform="translate(695 65.5) rotate(81.71)"><rect x="-1.05" y="-34.00" width="2.1" height="6.30"/><ellipse cx="0" cy="-34.00" rx="4.6" ry="2.5"/></g>
<g transform="translate(695 65.5) rotate(102.88)"><rect x="-1.05" y="-34.00" width="2.1" height="6.30"/><ellipse cx="0" cy="-34.00" rx="4.6" ry="2.5"/></g>
<g transform="translate(695 65.5) rotate(124.06)"><rect x="-1.05" y="-34.00" width="2.1" height="6.30"/><ellipse cx="0" cy="-34.00" rx="4.6" ry="2.5"/></g>
<g transform="translate(695 65.5) rotate(145.24)"><rect x="-1.05" y="-34.00" width="2.1" height="6.30"/><ellipse cx="0" cy="-34.00" rx="4.6" ry="2.5"/></g>
<g transform="translate(695 65.5) rotate(166.41)"><rect x="-1.05" y="-34.00" width="2.1" height="6.30"/><ellipse cx="0" cy="-34.00" rx="4.6" ry="2.5"/></g>
<g transform="translate(695 65.5) rotate(187.59)"><rect x="-1.05" y="-34.00" width="2.1" height="6.30"/><ellipse cx="0" cy="-34.00" rx="4.6" ry="2.5"/></g>
<g transform="translate(695 65.5) rotate(208.76)"><rect x="-1.05" y="-34.00" width="2.1" height="6.30"/><ellipse cx="0" cy="-34.00" rx="4.6" ry="2.5"/></g>
<g transform="translate(695 65.5) rotate(229.94)"><rect x="-1.05" y="-34.00" width="2.1" height="6.30"/><ellipse cx="0" cy="-34.00" rx="4.6" ry="2.5"/></g>
<g transform="translate(695 65.5) rotate(251.12)"><rect x="-1.05" y="-34.00" width="2.1" height="6.30"/><ellipse cx="0" cy="-34.00" rx="4.6" ry="2.5"/></g>
<g transform="translate(695 65.5) rotate(272.29)"><rect x="-1.05" y="-34.00" width="2.1" height="6.30"/><ellipse cx="0" cy="-34.00" rx="4.6" ry="2.5"/></g>
<g transform="translate(695 65.5) rotate(293.47)"><rect x="-1.05" y="-34.00" width="2.1" height="6.30"/><ellipse cx="0" cy="-34.00" rx="4.6" ry="2.5"/></g>
<g transform="translate(695 65.5) rotate(314.65)"><rect x="-1.05" y="-34.00" width="2.1" height="6.30"/><ellipse cx="0" cy="-34.00" rx="4.6" ry="2.5"/></g>
<g transform="translate(695 65.5) rotate(335.82)"><rect x="-1.05" y="-34.00" width="2.1" height="6.30"/><ellipse cx="0" cy="-34.00" rx="4.6" ry="2.5"/></g>
</g>
<text transform="translate(695 74.5) scale(0.68 1)" text-anchor="middle" font-family="'Liberation Sans', sans-serif" font-weight="700" font-size="34.2" fill="#fff">44</text>
<g fill="#329a46" stroke="none">
<circle cx="506.25" cy="152.5" r="29.2"/>
<g transform="translate(506.25 152.5) rotate(-3.00)"><rect x="-1.05" y="-34.00" width="2.1" height="6.30"/><ellipse cx="0" cy="-34.00" rx="4.6" ry="2.5"/></g>
<g transform="translate(506.25 152.5) rotate(18.18)"><rect x="-1.05" y="-34.00" width="2.1" height="6.30"/><ellipse cx="0" cy="-34.00" rx="4.6" ry="2.5"/></g>
<g transform="translate(506.25 152.5) rotate(39.35)"><rect x="-1.05" y="-34.00" width="2.1" height="6.30"/><ellipse cx="0" cy="-34.00" rx="4.6" ry="2.5"/></g>
<g transform="translate(506.25 152.5) rotate(60.53)"><rect x="-1.05" y="-34.00" width="2.1" height="6.30"/><ellipse cx="0" cy="-34.00" rx="4.6" ry="2.5"/></g>
<g transform="translate(506.25 152.5) rotate(81.71)"><rect x="-1.05" y="-34.00" width="2.1" height="6.30"/><ellipse cx="0" cy="-34.00" rx="4.6" ry="2.5"/></g>
<g transform="translate(506.25 152.5) rotate(102.88)"><rect x="-1.05" y="-34.00" width="2.1" height="6.30"/><ellipse cx="0" cy="-34.00" rx="4.6" ry="2.5"/></g>
<g transform="translate(506.25 152.5) rotate(124.06)"><rect x="-1.05" y="-34.00" width="2.1" height="6.30"/><ellipse cx="0" cy="-34.00" rx="4.6" ry="2.5"/></g>
<g transform="translate(506.25 152.5) rotate(145.24)"><rect x="-1.05" y="-34.00" width="2.1" height="6.30"/><ellipse cx="0" cy="-34.00" rx="4.6" ry="2.5"/></g>
<g transform="translate(506.25 152.5) rotate(166.41)"><rect x="-1.05" y="-34.00" width="2.1" height="6.30"/><ellipse cx="0" cy="-34.00" rx="4.6" ry="2.5"/></g>
<g transform="translate(506.25 152.5) rotate(187.59)"><rect x="-1.05" y="-34.00" width="2.1" height="6.30"/><ellipse cx="0" cy="-34.00" rx="4.6" ry="2.5"/></g>
<g transform="translate(506.25 152.5) rotate(208.76)"><rect x="-1.05" y="-34.00" width="2.1" height="6.30"/><ellipse cx="0" cy="-34.00" rx="4.6" ry="2.5"/></g>
<g transform="translate(506.25 152.5) rotate(229.94)"><rect x="-1.05" y="-34.00" width="2.1" height="6.30"/><ellipse cx="0" cy="-34.00" rx="4.6" ry="2.5"/></g>
<g transform="translate(506.25 152.5) rotate(251.12)"><rect x="-1.05" y="-34.00" width="2.1" height="6.30"/><ellipse cx="0" cy="-34.00" rx="4.6" ry="2.5"/></g>
<g transform="translate(506.25 152.5) rotate(272.29)"><rect x="-1.05" y="-34.00" width="2.1" height="6.30"/><ellipse cx="0" cy="-34.00" rx="4.6" ry="2.5"/></g>
<g transform="translate(506.25 152.5) rotate(293.47)"><rect x="-1.05" y="-34.00" width="2.1" height="6.30"/><ellipse cx="0" cy="-34.00" rx="4.6" ry="2.5"/></g>
<g transform="translate(506.25 152.5) rotate(314.65)"><rect x="-1.05" y="-34.00" width="2.1" height="6.30"/><ellipse cx="0" cy="-34.00" rx="4.6" ry="2.5"/></g>
<g transform="translate(506.25 152.5) rotate(335.82)"><rect x="-1.05" y="-34.00" width="2.1" height="6.30"/><ellipse cx="0" cy="-34.00" rx="4.6" ry="2.5"/></g>
</g>
<text transform="translate(506.25 161.5) scale(0.68 1)" text-anchor="middle" font-family="'Liberation Sans', sans-serif" font-weight="700" font-size="34.2" fill="#fff">37</text>
<g fill="#329a46" stroke="none">
<circle cx="576.75" cy="257" r="29.2"/>
<g transform="translate(576.75 257) rotate(-3.00)"><rect x="-1.05" y="-34.00" width="2.1" height="6.30"/><ellipse cx="0" cy="-34.00" rx="4.6" ry="2.5"/></g>
<g transform="translate(576.75 257) rotate(18.18)"><rect x="-1.05" y="-34.00" width="2.1" height="6.30"/><ellipse cx="0" cy="-34.00" rx="4.6" ry="2.5"/></g>
<g transform="translate(576.75 257) rotate(39.35)"><rect x="-1.05" y="-34.00" width="2.1" height="6.30"/><ellipse cx="0" cy="-34.00" rx="4.6" ry="2.5"/></g>
<g transform="translate(576.75 257) rotate(60.53)"><rect x="-1.05" y="-34.00" width="2.1" height="6.30"/><ellipse cx="0" cy="-34.00" rx="4.6" ry="2.5"/></g>
<g transform="translate(576.75 257) rotate(81.71)"><rect x="-1.05" y="-34.00" width="2.1" height="6.30"/><ellipse cx="0" cy="-34.00" rx="4.6" ry="2.5"/></g>
<g transform="translate(576.75 257) rotate(102.88)"><rect x="-1.05" y="-34.00" width="2.1" height="6.30"/><ellipse cx="0" cy="-34.00" rx="4.6" ry="2.5"/></g>
<g transform="translate(576.75 257) rotate(124.06)"><rect x="-1.05" y="-34.00" width="2.1" height="6.30"/><ellipse cx="0" cy="-34.00" rx="4.6" ry="2.5"/></g>
<g transform="translate(576.75 257) rotate(145.24)"><rect x="-1.05" y="-34.00" width="2.1" height="6.30"/><ellipse cx="0" cy="-34.00" rx="4.6" ry="2.5"/></g>
<g transform="translate(576.75 257) rotate(166.41)"><rect x="-1.05" y="-34.00" width="2.1" height="6.30"/><ellipse cx="0" cy="-34.00" rx="4.6" ry="2.5"/></g>
<g transform="translate(576.75 257) rotate(187.59)"><rect x="-1.05" y="-34.00" width="2.1" height="6.30"/><ellipse cx="0" cy="-34.00" rx="4.6" ry="2.5"/></g>
<g transform="translate(576.75 257) rotate(208.76)"><rect x="-1.05" y="-34.00" width="2.1" height="6.30"/><ellipse cx="0" cy="-34.00" rx="4.6" ry="2.5"/></g>
<g transform="translate(576.75 257) rotate(229.94)"><rect x="-1.05" y="-34.00" width="2.1" height="6.30"/><ellipse cx="0" cy="-34.00" rx="4.6" ry="2.5"/></g>
<g transform="translate(576.75 257) rotate(251.12)"><rect x="-1.05" y="-34.00" width="2.1" height="6.30"/><ellipse cx="0" cy="-34.00" rx="4.6" ry="2.5"/></g>
<g transform="translate(576.75 257) rotate(272.29)"><rect x="-1.05" y="-34.00" width="2.1" height="6.30"/><ellipse cx="0" cy="-34.00" rx="4.6" ry="2.5"/></g>
<g transform="translate(576.75 257) rotate(293.47)"><rect x="-1.05" y="-34.00" width="2.1" height="6.30"/><ellipse cx="0" cy="-34.00" rx="4.6" ry="2.5"/></g>
<g transform="translate(576.75 257) rotate(314.65)"><rect x="-1.05" y="-34.00" width="2.1" height="6.30"/><ellipse cx="0" cy="-34.00" rx="4.6" ry="2.5"/></g>
<g transform="translate(576.75 257) rotate(335.82)"><rect x="-1.05" y="-34.00" width="2.1" height="6.30"/><ellipse cx="0" cy="-34.00" rx="4.6" ry="2.5"/></g>
</g>
<text transform="translate(576.75 266.0) scale(0.68 1)" text-anchor="middle" font-family="'Liberation Sans', sans-serif" font-weight="700" font-size="34.2" fill="#fff">38</text>
<g fill="#329a46" stroke="none">
<circle cx="807" cy="301.25" r="29.2"/>
<g transform="translate(807 301.25) rotate(-3.00)"><rect x="-1.05" y="-34.00" width="2.1" height="6.30"/><ellipse cx="0" cy="-34.00" rx="4.6" ry="2.5"/></g>
<g transform="translate(807 301.25) rotate(18.18)"><rect x="-1.05" y="-34.00" width="2.1" height="6.30"/><ellipse cx="0" cy="-34.00" rx="4.6" ry="2.5"/></g>
<g transform="translate(807 301.25) rotate(39.35)"><rect x="-1.05" y="-34.00" width="2.1" height="6.30"/><ellipse cx="0" cy="-34.00" rx="4.6" ry="2.5"/></g>
<g transform="translate(807 301.25) rotate(60.53)"><rect x="-1.05" y="-34.00" width="2.1" height="6.30"/><ellipse cx="0" cy="-34.00" rx="4.6" ry="2.5"/></g>
<g transform="translate(807 301.25) rotate(81.71)"><rect x="-1.05" y="-34.00" width="2.1" height="6.30"/><ellipse cx="0" cy="-34.00" rx="4.6" ry="2.5"/></g>
<g transform="translate(807 301.25) rotate(102.88)"><rect x="-1.05" y="-34.00" width="2.1" height="6.30"/><ellipse cx="0" cy="-34.00" rx="4.6" ry="2.5"/></g>
<g transform="translate(807 301.25) rotate(124.06)"><rect x="-1.05" y="-34.00" width="2.1" height="6.30"/><ellipse cx="0" cy="-34.00" rx="4.6" ry="2.5"/></g>
<g transform="translate(807 301.25) rotate(145.24)"><rect x="-1.05" y="-34.00" width="2.1" height="6.30"/><ellipse cx="0" cy="-34.00" rx="4.6" ry="2.5"/></g>
<g transform="translate(807 301.25) rotate(166.41)"><rect x="-1.05" y="-34.00" width="2.1" height="6.30"/><ellipse cx="0" cy="-34.00" rx="4.6" ry="2.5"/></g>
<g transform="translate(807 301.25) rotate(187.59)"><rect x="-1.05" y="-34.00" width="2.1" height="6.30"/><ellipse cx="0" cy="-34.00" rx="4.6" ry="2.5"/></g>
<g transform="translate(807 301.25) rotate(208.76)"><rect x="-1.05" y="-34.00" width="2.1" height="6.30"/><ellipse cx="0" cy="-34.00" rx="4.6" ry="2.5"/></g>
<g transform="translate(807 301.25) rotate(229.94)"><rect x="-1.05" y="-34.00" width="2.1" height="6.30"/><ellipse cx="0" cy="-34.00" rx="4.6" ry="2.5"/></g>
<g transform="translate(807 301.25) rotate(251.12)"><rect x="-1.05" y="-34.00" width="2.1" height="6.30"/><ellipse cx="0" cy="-34.00" rx="4.6" ry="2.5"/></g>
<g transform="translate(807 301.25) rotate(272.29)"><rect x="-1.05" y="-34.00" width="2.1" height="6.30"/><ellipse cx="0" cy="-34.00" rx="4.6" ry="2.5"/></g>
<g transform="translate(807 301.25) rotate(293.47)"><rect x="-1.05" y="-34.00" width="2.1" height="6.30"/><ellipse cx="0" cy="-34.00" rx="4.6" ry="2.5"/></g>
<g transform="translate(807 301.25) rotate(314.65)"><rect x="-1.05" y="-34.00" width="2.1" height="6.30"/><ellipse cx="0" cy="-34.00" rx="4.6" ry="2.5"/></g>
<g transform="translate(807 301.25) rotate(335.82)"><rect x="-1.05" y="-34.00" width="2.1" height="6.30"/><ellipse cx="0" cy="-34.00" rx="4.6" ry="2.5"/></g>
</g>
<text transform="translate(807 310.25) scale(0.68 1)" text-anchor="middle" font-family="'Liberation Sans', sans-serif" font-weight="700" font-size="34.2" fill="#fff">43</text>
<g fill="#329a46" stroke="none">
<circle cx="538.75" cy="350" r="29.2"/>
<g transform="translate(538.75 350) rotate(-3.00)"><rect x="-1.05" y="-34.00" width="2.1" height="6.30"/><ellipse cx="0" cy="-34.00" rx="4.6" ry="2.5"/></g>
<g transform="translate(538.75 350) rotate(18.18)"><rect x="-1.05" y="-34.00" width="2.1" height="6.30"/><ellipse cx="0" cy="-34.00" rx="4.6" ry="2.5"/></g>
<g transform="translate(538.75 350) rotate(39.35)"><rect x="-1.05" y="-34.00" width="2.1" height="6.30"/><ellipse cx="0" cy="-34.00" rx="4.6" ry="2.5"/></g>
<g transform="translate(538.75 350) rotate(60.53)"><rect x="-1.05" y="-34.00" width="2.1" height="6.30"/><ellipse cx="0" cy="-34.00" rx="4.6" ry="2.5"/></g>
<g transform="translate(538.75 350) rotate(81.71)"><rect x="-1.05" y="-34.00" width="2.1" height="6.30"/><ellipse cx="0" cy="-34.00" rx="4.6" ry="2.5"/></g>
<g transform="translate(538.75 350) rotate(102.88)"><rect x="-1.05" y="-34.00" width="2.1" height="6.30"/><ellipse cx="0" cy="-34.00" rx="4.6" ry="2.5"/></g>
<g transform="translate(538.75 350) rotate(124.06)"><rect x="-1.05" y="-34.00" width="2.1" height="6.30"/><ellipse cx="0" cy="-34.00" rx="4.6" ry="2.5"/></g>
<g transform="translate(538.75 350) rotate(145.24)"><rect x="-1.05" y="-34.00" width="2.1" height="6.30"/><ellipse cx="0" cy="-34.00" rx="4.6" ry="2.5"/></g>
<g transform="translate(538.75 350) rotate(166.41)"><rect x="-1.05" y="-34.00" width="2.1" height="6.30"/><ellipse cx="0" cy="-34.00" rx="4.6" ry="2.5"/></g>
<g transform="translate(538.75 350) rotate(187.59)"><rect x="-1.05" y="-34.00" width="2.1" height="6.30"/><ellipse cx="0" cy="-34.00" rx="4.6" ry="2.5"/></g>
<g transform="translate(538.75 350) rotate(208.76)"><rect x="-1.05" y="-34.00" width="2.1" height="6.30"/><ellipse cx="0" cy="-34.00" rx="4.6" ry="2.5"/></g>
<g transform="translate(538.75 350) rotate(229.94)"><rect x="-1.05" y="-34.00" width="2.1" height="6.30"/><ellipse cx="0" cy="-34.00" rx="4.6" ry="2.5"/></g>
<g transform="translate(538.75 350) rotate(251.12)"><rect x="-1.05" y="-34.00" width="2.1" height="6.30"/><ellipse cx="0" cy="-34.00" rx="4.6" ry="2.5"/></g>
<g transform="translate(538.75 350) rotate(272.29)"><rect x="-1.05" y="-34.00" width="2.1" height="6.30"/><ellipse cx="0" cy="-34.00" rx="4.6" ry="2.5"/></g>
<g transform="translate(538.75 350) rotate(293.47)"><rect x="-1.05" y="-34.00" width="2.1" height="6.30"/><ellipse cx="0" cy="-34.00" rx="4.6" ry="2.5"/></g>
<g transform="translate(538.75 350) rotate(314.65)"><rect x="-1.05" y="-34.00" width="2.1" height="6.30"/><ellipse cx="0" cy="-34.00" rx="4.6" ry="2.5"/></g>
<g transform="translate(538.75 350) rotate(335.82)"><rect x="-1.05" y="-34.00" width="2.1" height="6.30"/><ellipse cx="0" cy="-34.00" rx="4.6" ry="2.5"/></g>
</g>
<text transform="translate(538.75 359.0) scale(0.68 1)" text-anchor="middle" font-family="'Liberation Sans', sans-serif" font-weight="700" font-size="34.2" fill="#fff">40</text>
<g fill="#329a46" stroke="none">
<circle cx="487" cy="425.5" r="29.2"/>
<g transform="translate(487 425.5) rotate(-3.00)"><rect x="-1.05" y="-34.00" width="2.1" height="6.30"/><ellipse cx="0" cy="-34.00" rx="4.6" ry="2.5"/></g>
<g transform="translate(487 425.5) rotate(18.18)"><rect x="-1.05" y="-34.00" width="2.1" height="6.30"/><ellipse cx="0" cy="-34.00" rx="4.6" ry="2.5"/></g>
<g transform="translate(487 425.5) rotate(39.35)"><rect x="-1.05" y="-34.00" width="2.1" height="6.30"/><ellipse cx="0" cy="-34.00" rx="4.6" ry="2.5"/></g>
<g transform="translate(487 425.5) rotate(60.53)"><rect x="-1.05" y="-34.00" width="2.1" height="6.30"/><ellipse cx="0" cy="-34.00" rx="4.6" ry="2.5"/></g>
<g transform="translate(487 425.5) rotate(81.71)"><rect x="-1.05" y="-34.00" width="2.1" height="6.30"/><ellipse cx="0" cy="-34.00" rx="4.6" ry="2.5"/></g>
<g transform="translate(487 425.5) rotate(102.88)"><rect x="-1.05" y="-34.00" width="2.1" height="6.30"/><ellipse cx="0" cy="-34.00" rx="4.6" ry="2.5"/></g>
<g transform="translate(487 425.5) rotate(124.06)"><rect x="-1.05" y="-34.00" width="2.1" height="6.30"/><ellipse cx="0" cy="-34.00" rx="4.6" ry="2.5"/></g>
<g transform="translate(487 425.5) rotate(145.24)"><rect x="-1.05" y="-34.00" width="2.1" height="6.30"/><ellipse cx="0" cy="-34.00" rx="4.6" ry="2.5"/></g>
<g transform="translate(487 425.5) rotate(166.41)"><rect x="-1.05" y="-34.00" width="2.1" height="6.30"/><ellipse cx="0" cy="-34.00" rx="4.6" ry="2.5"/></g>
<g transform="translate(487 425.5) rotate(187.59)"><rect x="-1.05" y="-34.00" width="2.1" height="6.30"/><ellipse cx="0" cy="-34.00" rx="4.6" ry="2.5"/></g>
<g transform="translate(487 425.5) rotate(208.76)"><rect x="-1.05" y="-34.00" width="2.1" height="6.30"/><ellipse cx="0" cy="-34.00" rx="4.6" ry="2.5"/></g>
<g transform="translate(487 425.5) rotate(229.94)"><rect x="-1.05" y="-34.00" width="2.1" height="6.30"/><ellipse cx="0" cy="-34.00" rx="4.6" ry="2.5"/></g>
<g transform="translate(487 425.5) rotate(251.12)"><rect x="-1.05" y="-34.00" width="2.1" height="6.30"/><ellipse cx="0" cy="-34.00" rx="4.6" ry="2.5"/></g>
<g transform="translate(487 425.5) rotate(272.29)"><rect x="-1.05" y="-34.00" width="2.1" height="6.30"/><ellipse cx="0" cy="-34.00" rx="4.6" ry="2.5"/></g>
<g transform="translate(487 425.5) rotate(293.47)"><rect x="-1.05" y="-34.00" width="2.1" height="6.30"/><ellipse cx="0" cy="-34.00" rx="4.6" ry="2.5"/></g>
<g transform="translate(487 425.5) rotate(314.65)"><rect x="-1.05" y="-34.00" width="2.1" height="6.30"/><ellipse cx="0" cy="-34.00" rx="4.6" ry="2.5"/></g>
<g transform="translate(487 425.5) rotate(335.82)"><rect x="-1.05" y="-34.00" width="2.1" height="6.30"/><ellipse cx="0" cy="-34.00" rx="4.6" ry="2.5"/></g>
</g>
<text transform="translate(487 434.5) scale(0.68 1)" text-anchor="middle" font-family="'Liberation Sans', sans-serif" font-weight="700" font-size="34.2" fill="#fff">41</text>
<g fill="#329a46" stroke="none">
<circle cx="414.25" cy="488.5" r="29.2"/>
<g transform="translate(414.25 488.5) rotate(-3.00)"><rect x="-1.05" y="-34.00" width="2.1" height="6.30"/><ellipse cx="0" cy="-34.00" rx="4.6" ry="2.5"/></g>
<g transform="translate(414.25 488.5) rotate(18.18)"><rect x="-1.05" y="-34.00" width="2.1" height="6.30"/><ellipse cx="0" cy="-34.00" rx="4.6" ry="2.5"/></g>
<g transform="translate(414.25 488.5) rotate(39.35)"><rect x="-1.05" y="-34.00" width="2.1" height="6.30"/><ellipse cx="0" cy="-34.00" rx="4.6" ry="2.5"/></g>
<g transform="translate(414.25 488.5) rotate(60.53)"><rect x="-1.05" y="-34.00" width="2.1" height="6.30"/><ellipse cx="0" cy="-34.00" rx="4.6" ry="2.5"/></g>
<g transform="translate(414.25 488.5) rotate(81.71)"><rect x="-1.05" y="-34.00" width="2.1" height="6.30"/><ellipse cx="0" cy="-34.00" rx="4.6" ry="2.5"/></g>
<g transform="translate(414.25 488.5) rotate(102.88)"><rect x="-1.05" y="-34.00" width="2.1" height="6.30"/><ellipse cx="0" cy="-34.00" rx="4.6" ry="2.5"/></g>
<g transform="translate(414.25 488.5) rotate(124.06)"><rect x="-1.05" y="-34.00" width="2.1" height="6.30"/><ellipse cx="0" cy="-34.00" rx="4.6" ry="2.5"/></g>
<g transform="translate(414.25 488.5) rotate(145.24)"><rect x="-1.05" y="-34.00" width="2.1" height="6.30"/><ellipse cx="0" cy="-34.00" rx="4.6" ry="2.5"/></g>
<g transform="translate(414.25 488.5) rotate(166.41)"><rect x="-1.05" y="-34.00" width="2.1" height="6.30"/><ellipse cx="0" cy="-34.00" rx="4.6" ry="2.5"/></g>
<g transform="translate(414.25 488.5) rotate(187.59)"><rect x="-1.05" y="-34.00" width="2.1" height="6.30"/><ellipse cx="0" cy="-34.00" rx="4.6" ry="2.5"/></g>
<g transform="translate(414.25 488.5) rotate(208.76)"><rect x="-1.05" y="-34.00" width="2.1" height="6.30"/><ellipse cx="0" cy="-34.00" rx="4.6" ry="2.5"/></g>
<g transform="translate(414.25 488.5) rotate(229.94)"><rect x="-1.05" y="-34.00" width="2.1" height="6.30"/><ellipse cx="0" cy="-34.00" rx="4.6" ry="2.5"/></g>
<g transform="translate(414.25 488.5) rotate(251.12)"><rect x="-1.05" y="-34.00" width="2.1" height="6.30"/><ellipse cx="0" cy="-34.00" rx="4.6" ry="2.5"/></g>
<g transform="translate(414.25 488.5) rotate(272.29)"><rect x="-1.05" y="-34.00" width="2.1" height="6.30"/><ellipse cx="0" cy="-34.00" rx="4.6" ry="2.5"/></g>
<g transform="translate(414.25 488.5) rotate(293.47)"><rect x="-1.05" y="-34.00" width="2.1" height="6.30"/><ellipse cx="0" cy="-34.00" rx="4.6" ry="2.5"/></g>
<g transform="translate(414.25 488.5) rotate(314.65)"><rect x="-1.05" y="-34.00" width="2.1" height="6.30"/><ellipse cx="0" cy="-34.00" rx="4.6" ry="2.5"/></g>
<g transform="translate(414.25 488.5) rotate(335.82)"><rect x="-1.05" y="-34.00" width="2.1" height="6.30"/><ellipse cx="0" cy="-34.00" rx="4.6" ry="2.5"/></g>
</g>
<text transform="translate(414.25 497.5) scale(0.68 1)" text-anchor="middle" font-family="'Liberation Sans', sans-serif" font-weight="700" font-size="34.2" fill="#fff">42</text>
<g fill="#329a46" stroke="none">
<circle cx="318" cy="512" r="29.2"/>
<g transform="translate(318 512) rotate(-3.00)"><rect x="-1.05" y="-34.00" width="2.1" height="6.30"/><ellipse cx="0" cy="-34.00" rx="4.6" ry="2.5"/></g>
<g transform="translate(318 512) rotate(18.18)"><rect x="-1.05" y="-34.00" width="2.1" height="6.30"/><ellipse cx="0" cy="-34.00" rx="4.6" ry="2.5"/></g>
<g transform="translate(318 512) rotate(39.35)"><rect x="-1.05" y="-34.00" width="2.1" height="6.30"/><ellipse cx="0" cy="-34.00" rx="4.6" ry="2.5"/></g>
<g transform="translate(318 512) rotate(60.53)"><rect x="-1.05" y="-34.00" width="2.1" height="6.30"/><ellipse cx="0" cy="-34.00" rx="4.6" ry="2.5"/></g>
<g transform="translate(318 512) rotate(81.71)"><rect x="-1.05" y="-34.00" width="2.1" height="6.30"/><ellipse cx="0" cy="-34.00" rx="4.6" ry="2.5"/></g>
<g transform="translate(318 512) rotate(102.88)"><rect x="-1.05" y="-34.00" width="2.1" height="6.30"/><ellipse cx="0" cy="-34.00" rx="4.6" ry="2.5"/></g>
<g transform="translate(318 512) rotate(124.06)"><rect x="-1.05" y="-34.00" width="2.1" height="6.30"/><ellipse cx="0" cy="-34.00" rx="4.6" ry="2.5"/></g>
<g transform="translate(318 512) rotate(145.24)"><rect x="-1.05" y="-34.00" width="2.1" height="6.30"/><ellipse cx="0" cy="-34.00" rx="4.6" ry="2.5"/></g>
<g transform="translate(318 512) rotate(166.41)"><rect x="-1.05" y="-34.00" width="2.1" height="6.30"/><ellipse cx="0" cy="-34.00" rx="4.6" ry="2.5"/></g>
<g transform="translate(318 512) rotate(187.59)"><rect x="-1.05" y="-34.00" width="2.1" height="6.30"/><ellipse cx="0" cy="-34.00" rx="4.6" ry="2.5"/></g>
<g transform="translate(318 512) rotate(208.76)"><rect x="-1.05" y="-34.00" width="2.1" height="6.30"/><ellipse cx="0" cy="-34.00" rx="4.6" ry="2.5"/></g>
<g transform="translate(318 512) rotate(229.94)"><rect x="-1.05" y="-34.00" width="2.1" height="6.30"/><ellipse cx="0" cy="-34.00" rx="4.6" ry="2.5"/></g>
<g transform="translate(318 512) rotate(251.12)"><rect x="-1.05" y="-34.00" width="2.1" height="6.30"/><ellipse cx="0" cy="-34.00" rx="4.6" ry="2.5"/></g>
<g transform="translate(318 512) rotate(272.29)"><rect x="-1.05" y="-34.00" width="2.1" height="6.30"/><ellipse cx="0" cy="-34.00" rx="4.6" ry="2.5"/></g>
<g transform="translate(318 512) rotate(293.47)"><rect x="-1.05" y="-34.00" width="2.1" height="6.30"/><ellipse cx="0" cy="-34.00" rx="4.6" ry="2.5"/></g>
<g transform="translate(318 512) rotate(314.65)"><rect x="-1.05" y="-34.00" width="2.1" height="6.30"/><ellipse cx="0" cy="-34.00" rx="4.6" ry="2.5"/></g>
<g transform="translate(318 512) rotate(335.82)"><rect x="-1.05" y="-34.00" width="2.1" height="6.30"/><ellipse cx="0" cy="-34.00" rx="4.6" ry="2.5"/></g>
</g>
<text transform="translate(318 521.0) scale(0.68 1)" text-anchor="middle" font-family="'Liberation Sans', sans-serif" font-weight="700" font-size="34.2" fill="#fff">45</text>
<g fill="#329a46" stroke="none">
<circle cx="166.25" cy="483" r="29.2"/>
<g transform="translate(166.25 483) rotate(-3.00)"><rect x="-1.05" y="-34.00" width="2.1" height="6.30"/><ellipse cx="0" cy="-34.00" rx="4.6" ry="2.5"/></g>
<g transform="translate(166.25 483) rotate(18.18)"><rect x="-1.05" y="-34.00" width="2.1" height="6.30"/><ellipse cx="0" cy="-34.00" rx="4.6" ry="2.5"/></g>
<g transform="translate(166.25 483) rotate(39.35)"><rect x="-1.05" y="-34.00" width="2.1" height="6.30"/><ellipse cx="0" cy="-34.00" rx="4.6" ry="2.5"/></g>
<g transform="translate(166.25 483) rotate(60.53)"><rect x="-1.05" y="-34.00" width="2.1" height="6.30"/><ellipse cx="0" cy="-34.00" rx="4.6" ry="2.5"/></g>
<g transform="translate(166.25 483) rotate(81.71)"><rect x="-1.05" y="-34.00" width="2.1" height="6.30"/><ellipse cx="0" cy="-34.00" rx="4.6" ry="2.5"/></g>
<g transform="translate(166.25 483) rotate(102.88)"><rect x="-1.05" y="-34.00" width="2.1" height="6.30"/><ellipse cx="0" cy="-34.00" rx="4.6" ry="2.5"/></g>
<g transform="translate(166.25 483) rotate(124.06)"><rect x="-1.05" y="-34.00" width="2.1" height="6.30"/><ellipse cx="0" cy="-34.00" rx="4.6" ry="2.5"/></g>
<g transform="translate(166.25 483) rotate(145.24)"><rect x="-1.05" y="-34.00" width="2.1" height="6.30"/><ellipse cx="0" cy="-34.00" rx="4.6" ry="2.5"/></g>
<g transform="translate(166.25 483) rotate(166.41)"><rect x="-1.05" y="-34.00" width="2.1" height="6.30"/><ellipse cx="0" cy="-34.00" rx="4.6" ry="2.5"/></g>
<g transform="translate(166.25 483) rotate(187.59)"><rect x="-1.05" y="-34.00" width="2.1" height="6.30"/><ellipse cx="0" cy="-34.00" rx="4.6" ry="2.5"/></g>
<g transform="translate(166.25 483) rotate(208.76)"><rect x="-1.05" y="-34.00" width="2.1" height="6.30"/><ellipse cx="0" cy="-34.00" rx="4.6" ry="2.5"/></g>
<g transform="translate(166.25 483) rotate(229.94)"><rect x="-1.05" y="-34.00" width="2.1" height="6.30"/><ellipse cx="0" cy="-34.00" rx="4.6" ry="2.5"/></g>
<g transform="translate(166.25 483) rotate(251.12)"><rect x="-1.05" y="-34.00" width="2.1" height="6.30"/><ellipse cx="0" cy="-34.00" rx="4.6" ry="2.5"/></g>
<g transform="translate(166.25 483) rotate(272.29)"><rect x="-1.05" y="-34.00" width="2.1" height="6.30"/><ellipse cx="0" cy="-34.00" rx="4.6" ry="2.5"/></g>
<g transform="translate(166.25 483) rotate(293.47)"><rect x="-1.05" y="-34.00" width="2.1" height="6.30"/><ellipse cx="0" cy="-34.00" rx="4.6" ry="2.5"/></g>
<g transform="translate(166.25 483) rotate(314.65)"><rect x="-1.05" y="-34.00" width="2.1" height="6.30"/><ellipse cx="0" cy="-34.00" rx="4.6" ry="2.5"/></g>
<g transform="translate(166.25 483) rotate(335.82)"><rect x="-1.05" y="-34.00" width="2.1" height="6.30"/><ellipse cx="0" cy="-34.00" rx="4.6" ry="2.5"/></g>
</g>
<text transform="translate(166.25 492.0) scale(0.68 1)" text-anchor="middle" font-family="'Liberation Sans', sans-serif" font-weight="700" font-size="34.2" fill="#fff">48</text>
<text x="508.8" y="57.5" textLength="77.7" lengthAdjust="spacingAndGlyphs" font-family="'Liberation Sans', sans-serif" font-size="21.4" fill="#424346" stroke="#424346" stroke-width="0.3">Giúp việc</text>
<text x="550.8" y="163" textLength="84.7" lengthAdjust="spacingAndGlyphs" font-family="'Liberation Sans', sans-serif" font-size="21.4" fill="#424346" stroke="#424346" stroke-width="0.3">Nhân viên</text>
<text x="741.3" y="74.5" textLength="92.2" lengthAdjust="spacingAndGlyphs" font-family="'Liberation Sans', sans-serif" font-size="21.4" fill="#424346" stroke="#424346" stroke-width="0.3">Con của 37</text>
<text x="622.55" y="257" textLength="69.7" lengthAdjust="spacingAndGlyphs" font-family="'Liberation Sans', sans-serif" font-size="21.4" fill="#424346" stroke="#424346" stroke-width="0.3">Con dâu</text>
<text x="855.05" y="296.25" textLength="83.95" lengthAdjust="spacingAndGlyphs" font-family="'Liberation Sans', sans-serif" font-size="21.4" fill="#424346" stroke="#424346" stroke-width="0.3">Thông gia</text>
<text x="855.3" y="323" textLength="56.7" lengthAdjust="spacingAndGlyphs" font-family="'Liberation Sans', sans-serif" font-size="21.4" fill="#424346" stroke="#424346" stroke-width="0.3">của 34</text>
<text x="585.05" y="348" textLength="44.7" lengthAdjust="spacingAndGlyphs" font-family="'Liberation Sans', sans-serif" font-size="21.4" fill="#424346" stroke="#424346" stroke-width="0.3">Cháu</text>
<text x="538.3" y="432.5" textLength="55.2" lengthAdjust="spacingAndGlyphs" font-family="'Liberation Sans', sans-serif" font-size="21.4" fill="#424346" stroke="#424346" stroke-width="0.3">Chồng</text>
<text x="461.3" y="500" textLength="66.7" lengthAdjust="spacingAndGlyphs" font-family="'Liberation Sans', sans-serif" font-size="21.4" fill="#424346" stroke="#424346" stroke-width="0.3">Con trai</text>
<text x="318.3" y="575.75" textLength="122.7" lengthAdjust="spacingAndGlyphs" font-family="'Liberation Sans', sans-serif" font-size="21.4" fill="#424346" stroke="#424346" stroke-width="0.3">Làm việc cùng</text>
<text x="823.05" y="518.75" textLength="114.2" lengthAdjust="spacingAndGlyphs" font-family="'Liberation Sans', sans-serif" font-size="21.4" fill="#424346" stroke="#424346" stroke-width="0.3">Bệnh nhân số</text>
<text x="823.8" y="552" textLength="102.95" lengthAdjust="spacingAndGlyphs" font-family="'Liberation Sans', sans-serif" font-size="21.4" fill="#424346" stroke="#424346" stroke-width="0.3">Đã xuất viện</text>
<circle cx="800.75" cy="512.5" r="10.4" fill="#807fa9"/>
<circle cx="800.75" cy="545.75" r="10.4" fill="#329a46"/>
</svg>
</body>
</html>
